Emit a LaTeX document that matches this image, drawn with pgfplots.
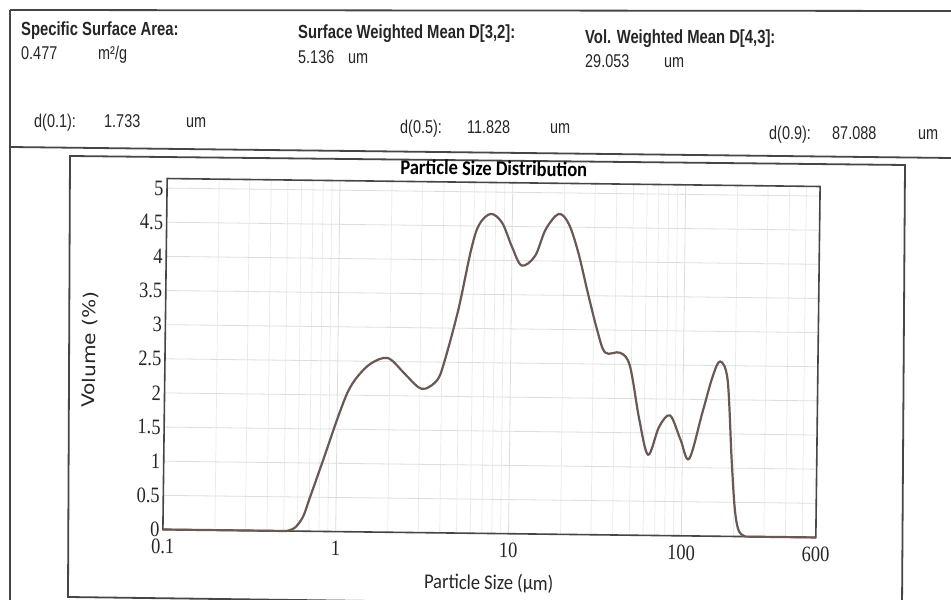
\documentclass[border=0pt]{standalone}
\usepackage{fontspec}
\usepackage{pgfplots}
\pgfplotsset{compat=1.18}
\setmainfont{Liberation Sans}
\newfontfamily\hdr[FakeStretch=0.78]{Liberation Sans}
\newfontfamily\tickfont[FakeStretch=0.84]{Liberation Serif}
\newfontfamily\calib[FakeStretch=0.88]{Carlito}
\newfontfamily\dvs[FakeStretch=1.15]{DejaVu Sans}
\definecolor{txt}{RGB}{38,38,38}
\definecolor{frame}{RGB}{70,70,70}
\definecolor{curve}{RGB}{105,88,84}
\definecolor{gridc}{RGB}{222,222,222}
\definecolor{gridm}{RGB}{235,235,235}

\newcommand{\hlab}[1]{{\hdr\bfseries\fontsize{19}{20}\selectfont #1}}
\newcommand{\hval}[1]{{\hdr\fontsize{18.5}{20}\selectfont #1}}

\begin{document}
\begin{tikzpicture}[x=1pt,y=1pt]
\useasboundingbox (0,0) rectangle (951,600);
\fill[white] (0,0) rectangle (951,600);

% report frame
\draw[frame, line width=1.8pt] (10,590) -- (951,589);
\draw[frame, line width=1.8pt] (10,590) -- (10,-5);
\draw[frame, line width=1.8pt] (10,453) -- (951,442);
\draw[frame, line width=1.8pt] (70,444) -- (905,435) -- (902,-8) -- (68,3) -- cycle;

% result summary
\begin{scope}[txt]
\node[anchor=base west, inner sep=0] at (21,564) {\hlab{Specific Surface Area:}};
\node[anchor=base west, inner sep=0] at (21,540) {\hval{0.477}};
\node[anchor=base west, inner sep=0] at (98,540) {\hval{m²/g}};
\node[anchor=base west, inner sep=0] at (298,561) {\hlab{Surface Weighted Mean D[3,2]:}};
\node[anchor=base west, inner sep=0] at (298,536) {\hval{5.136}};
\node[anchor=base west, inner sep=0] at (348,536) {\hval{um}};
\node[anchor=base west, inner sep=0] at (585,556) {\hlab{Vol. Weighted Mean D[4,3]:}};
\node[anchor=base west, inner sep=0] at (585,532) {\hval{29.053}};
\node[anchor=base west, inner sep=0] at (664,532) {\hval{um}};
\node[anchor=base west, inner sep=0] at (34,472) {\hval{d(0.1):}};
\node[anchor=base west, inner sep=0] at (104,472) {\hval{1.733}};
\node[anchor=base west, inner sep=0] at (186,472) {\hval{um}};
\node[anchor=base west, inner sep=0] at (400,466) {\hval{d(0.5):}};
\node[anchor=base west, inner sep=0] at (467,466) {\hval{11.828}};
\node[anchor=base west, inner sep=0] at (550,466) {\hval{um}};
\node[anchor=base west, inner sep=0] at (769,460) {\hval{d(0.9):}};
\node[anchor=base west, inner sep=0] at (832,460) {\hval{87.088}};
\node[anchor=base west, inner sep=0] at (918,460) {\hval{um}};
\end{scope}

\begin{scope}[transform canvas={rotate around={-0.7:(491.5pt,242pt)}}]
\begin{axis}[
  at={(165pt,66.5pt)}, anchor=south west,
  scale only axis, width=653pt, height=351pt,
  xmode=log, log basis x=10,
  xmin=0.1, xmax=600, ymin=0, ymax=5.14,
  xtick={0.1,1,10,100,600},
  xticklabels={0.1,1,10,100,600},
  minor xtick={0.2,0.3,0.4,0.5,0.6,0.7,0.8,0.9,2,3,4,5,6,7,8,9,20,30,40,50,60,70,80,90,200,300,400,500},
  ytick={0,0.5,1,1.5,2,2.5,3,3.5,4,4.5,5},
  yticklabels={0,0.5,1,1.5,2,2.5,3,3.5,4,4.5,5},
  major tick length=0pt, minor tick length=0pt,
  grid=both,
  major grid style={gridc, line width=0.8pt},
  minor grid style={gridm, line width=0.7pt},
  axis line style={frame, line width=1.6pt},
  /pgf/number format/assume math mode=true,
  tick label style={txt, font=\tickfont\fontsize{22}{22}\selectfont},
  xticklabel style={yshift=-6pt},
  title={Particle Size Distribution},
  title style={at={(axis description cs:0.5,1)}, anchor=base, inner sep=0pt, yshift=1pt,
    font=\calib\bfseries\fontsize{21}{22}\selectfont, text=black},
  xlabel={Particle Size (μm)},
  ylabel={Volume (\%)},
  every axis x label/.style={at={(axis description cs:0.5,-0.1425)}, anchor=center,
    font=\calib\fontsize{21}{22}\selectfont, text=txt},
  every axis y label/.style={at={(axis description cs:-0.1149,0.51)}, rotate=90, anchor=center,
    font=\dvs\fontsize{17.5}{18}\selectfont, text=txt},
  clip=false,
]
% flat parts of the distribution
\addplot[curve, line width=2.2pt] coordinates {(0.1,0) (0.52,0)};
\addplot[curve, line width=2.2pt] coordinates {(236,0) (600,0)};
% volume density curve
\addplot[curve, line width=2.2pt, smooth, tension=0.55] coordinates {
  (0.52,0) (0.58,0.05) (0.645,0.21) (0.70,0.47) (0.84,1.06) (1.0,1.64)
  (1.15,2.05) (1.31,2.28) (1.56,2.47) (1.95,2.55) (2.43,2.33)
  (2.9,2.14) (3.24,2.11) (3.78,2.24) (4.13,2.5) (4.94,3.27) (5.8,4.15)
  (6.43,4.52) (7.5,4.68) (8.74,4.55) (10.0,4.2) (11.4,3.93) (13.6,4.07)
  (15.6,4.46) (18.5,4.69) (21.2,4.55) (24.2,4.13) (27.6,3.55) (31.5,3.0)
  (35.2,2.67) (42.9,2.67) (49,2.48) (56,1.7) (63.4,1.18) (73,1.59)
  (84.4,1.76) (97.3,1.41) (109.6,1.13) (129.8,1.81) (148,2.34) (163,2.56)
  (180.6,2.29) (193,1.13) (203,0.4) (215,0.08) (236,0)
};
\end{axis}
\end{scope}
\end{tikzpicture}
\end{document}
